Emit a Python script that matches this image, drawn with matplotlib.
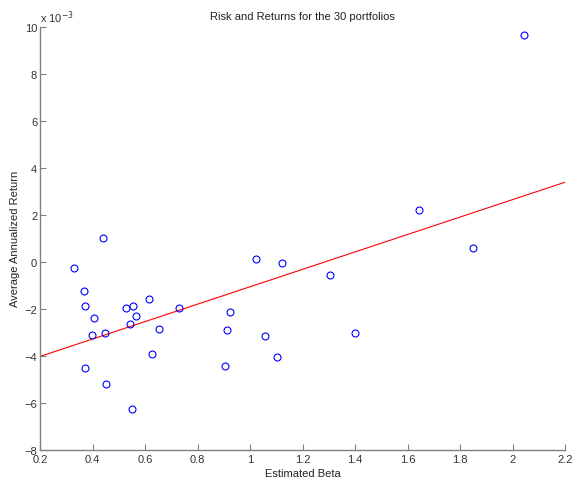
import numpy as np
import matplotlib
matplotlib.use("Agg")
import matplotlib.pyplot as plt

# Estimated betas and average annualized returns (in units of 1e-3)
betas = [0.439, 0.330, 0.366, 0.373, 0.407, 0.398, 0.449, 0.373, 0.453, 0.529,
         0.553, 0.564, 0.542, 0.617, 0.655, 0.625, 0.550, 0.731, 0.924, 0.912,
         0.903, 1.024, 1.122, 1.056, 1.103, 1.306, 1.399, 1.851, 1.645, 2.045]
returns_e3 = [1.035, -0.255, -1.25, -1.89, -2.40, -3.11, -3.04, -4.52, -5.22, -1.97,
              -1.86, -2.30, -2.65, -1.60, -2.85, -3.94, -6.26, -1.96, -2.14, -2.89,
              -4.45, 0.13, -0.06, -3.16, -4.07, -0.54, -3.05, 0.58, 2.21, 9.65]

# Regression line endpoints
line_x = [0.2, 2.2]
line_y = [-4.03, 3.39]

xticks = [0.2, 0.4, 0.6, 0.8, 1.0, 1.2, 1.4, 1.6, 1.8, 2.0, 2.2]
xticklabels = ["0.2", "0.4", "0.6", "0.8", "1", "1.2", "1.4", "1.6", "1.8", "2", "2.2"]
yticks = [-8, -6, -4, -2, 0, 2, 4, 6, 8, 10]

plt.rcParams['font.family'] = ['Liberation Sans', 'DejaVu Sans']
plt.rcParams['font.size'] = 8

fig = plt.figure(figsize=(5.73, 4.85), dpi=100)
ax = fig.add_axes([40/573, 1-450.7/485, (565-40)/573, (450.7-28)/485])

ax.plot(betas, returns_e3, 'o', markerfacecolor='none', markeredgecolor='blue',
        markersize=5, markeredgewidth=0.8, zorder=3)
ax.plot(line_x, line_y, color='red', linewidth=0.8)

ax.set_xlim(0.2, 2.2)
ax.set_ylim(-8, 10)
ax.set_xticks(xticks)
ax.set_xticklabels(xticklabels)
ax.set_yticks(yticks)

gray = '#808080'
for s in ['top', 'right']:
    ax.spines[s].set_visible(False)
for s in ['left', 'bottom']:
    ax.spines[s].set_color(gray)
    ax.spines[s].set_linewidth(1.0)
ax.tick_params(direction='in', length=4, width=0.8, color=gray, labelcolor='#333333')
ax.tick_params(axis='x', pad=3)
ax.tick_params(axis='y', pad=2)

ax.set_title("Risk and Returns for the 30 portfolios", fontsize=8, color='#222222', pad=6)
ax.set_xlabel("Estimated Beta", fontsize=8, color='#222222', labelpad=3)
ax.set_ylabel("Average Annualized Return", fontsize=8, color='#222222', labelpad=3)
ax.text(0.0, 1.005, r"x 10$^{-3}$", transform=ax.transAxes, fontsize=8,
        color='#333333', ha='left', va='bottom')

fig.savefig("out.png", dpi=100, facecolor='white')
